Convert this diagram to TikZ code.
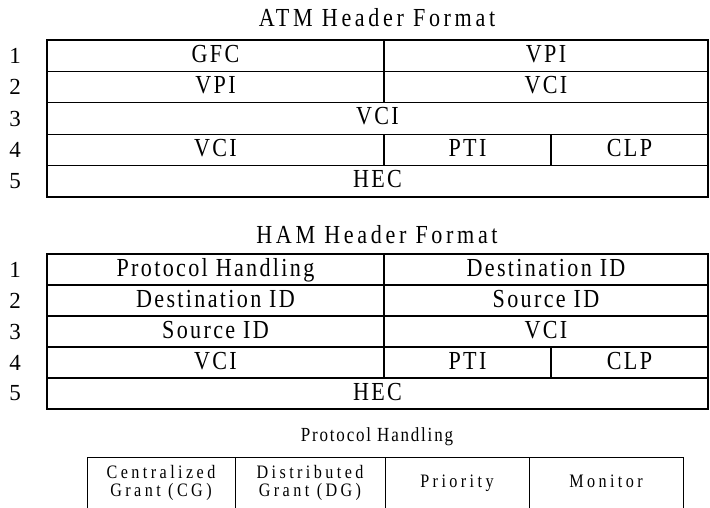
\documentclass[tikz,border=0pt]{standalone}
\usepackage{fontspec}
\setmainfont{Liberation Serif}
\newfontfamily\cellfont[FakeStretch=0.85, LetterSpace=9]{Liberation Serif}
\newfontfamily\titlefont[FakeStretch=0.85, LetterSpace=14]{Liberation Serif}
\newfontfamily\flagfont[FakeStretch=0.85, LetterSpace=18]{Liberation Serif}
\usepackage{tikz}
\usetikzlibrary{positioning}

\tikzset{
  cell/.style={draw, line width=1.1pt, inner sep=0pt, minimum height=31.4pt,
    text height=18pt, text depth=5pt,
    font=\cellfont\fontsize{26}{28}\selectfont},
  hamcell/.style={cell, minimum height=31pt},
  flagcell/.style={draw, line width=1pt, inner sep=0pt, minimum height=51pt,
    align=center, font=\flagfont\fontsize{19}{18}\selectfont},
  title/.style={font=\titlefont\fontsize{26}{28}\selectfont},
  rownum/.style={font=\fontsize{23}{24}\selectfont}
}

\begin{document}
\begin{tikzpicture}[x=1pt, y=-1pt]
  \useasboundingbox (0,0) rectangle (710,508);

  % ATM header
  \node[title] (atmtitle) at (377,18) {ATM Header Format};

  \node[cell, minimum width=337pt] (atmGFC) at (215.5,55.7) {GFC};
  \node[cell, minimum width=324pt] (atmVPIa) at (546,55.7) {VPI};
  \node[cell, minimum width=337pt] (atmVPIb) at (215.5,87.1) {VPI};
  \node[cell, minimum width=324pt] (atmVCIa) at (546,87.1) {VCI};
  \node[cell, minimum width=661pt] (atmVCIb) at (377.5,118.5) {VCI};
  \node[cell, minimum width=337pt] (atmVCIc) at (215.5,149.9) {VCI};
  \node[cell, minimum width=167pt] (atmPTI) at (467.5,149.9) {PTI};
  \node[cell, minimum width=157pt] (atmCLP) at (629.5,149.9) {CLP};
  \node[cell, minimum width=661pt] (atmHEC) at (377.5,181.3) {HEC};

  \foreach \i in {1,...,5}
    \node[rownum] (atmrow\i) at (15,{55.7+31.4*(\i-1)}) {\i};

  % HAM header
  \node[title] (hamtitle) at (377,235) {HAM Header Format};

  \node[hamcell, minimum width=337pt] (hamPH) at (215.5,269.5) {Protocol Handling};
  \node[hamcell, minimum width=324pt] (hamDIDa) at (546,269.5) {Destination ID};
  \node[hamcell, minimum width=337pt] (hamDIDb) at (215.5,300.5) {Destination ID};
  \node[hamcell, minimum width=324pt] (hamSIDa) at (546,300.5) {Source ID};
  \node[hamcell, minimum width=337pt] (hamSIDb) at (215.5,331.5) {Source ID};
  \node[hamcell, minimum width=324pt] (hamVCIa) at (546,331.5) {VCI};
  \node[hamcell, minimum width=337pt] (hamVCIb) at (215.5,362.5) {VCI};
  \node[hamcell, minimum width=167pt] (hamPTI) at (467.5,362.5) {PTI};
  \node[hamcell, minimum width=157pt] (hamCLP) at (629.5,362.5) {CLP};
  \node[hamcell, minimum width=661pt] (hamHEC) at (377.5,393.5) {HEC};

  \foreach \i in {1,...,5}
    \node[rownum] (hamrow\i) at (15,{269.5+31*(\i-1)}) {\i};

  % protocol handling field
  \node[font=\cellfont\fontsize{20}{22}\selectfont] (phtitle) at (377,437) {Protocol Handling};

  \node[flagcell, minimum width=148pt] (phCG) at (161,482.5) {Centralized\\Grant (CG)};
  \node[flagcell, minimum width=150pt] (phDG) at (310,482.5) {Distributed\\Grant (DG)};
  \node[flagcell, minimum width=144pt, text height=13pt, text depth=4pt] (phPri) at (457,482.5) {Priority};
  \node[flagcell, minimum width=154pt, text height=13pt, text depth=4pt] (phMon) at (606,482.5) {Monitor};
\end{tikzpicture}
\end{document}
